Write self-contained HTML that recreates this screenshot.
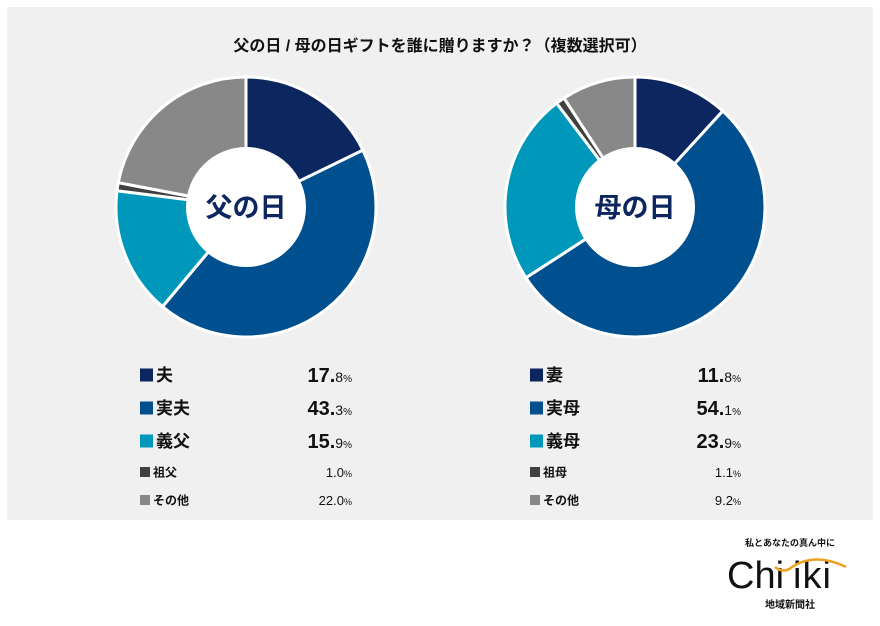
<!DOCTYPE html><html><head><meta charset="utf-8"><style>
body{margin:0;width:880px;height:626px;background:#fff;font-family:"Liberation Sans","Noto Sans CJK JP",sans-serif;position:relative;overflow:hidden}
.panel{position:absolute;left:7px;top:7px;width:866px;height:513px;background:#f0f0f0}
</style></head><body>
<div class="panel"></div>
<svg id="s" width="880" height="626" style="position:absolute;left:0;top:0" font-family="Liberation Sans,Noto Sans CJK JP,sans-serif">
<text x="440" y="51" text-anchor="middle" font-size="16" font-weight="bold" fill="#111">父の日 / 母の日ギフトを誰に贈りますか？（複数選択可）</text>
</svg>
<script>
const C=["#0c2660","#00508f","#0098ba","#404040","#888888"];
const s=document.getElementById('s');
function pie(cx,cy,r,vals,label){
 let a=0,tot=vals.reduce((x,y)=>x+y,0);
 vals.forEach((v,i)=>{const a0=a/tot*2*Math.PI;a+=v;const a1=a/tot*2*Math.PI;
  const x0=cx+r*Math.sin(a0),y0=cy-r*Math.cos(a0),x1=cx+r*Math.sin(a1),y1=cy-r*Math.cos(a1);
  const p=document.createElementNS('http://www.w3.org/2000/svg','path');
  p.setAttribute('d',`M${cx},${cy}L${x0},${y0}A${r},${r} 0 ${a1-a0>Math.PI?1:0} 1 ${x1},${y1}Z`);
  p.setAttribute('fill',C[i]);p.setAttribute('stroke','#fff');p.setAttribute('stroke-width','3');s.appendChild(p);});
 s.insertAdjacentHTML('beforeend',`<circle cx="${cx}" cy="${cy}" r="60" fill="#fff"/><text x="${cx}" y="${cy+10}" text-anchor="middle" font-size="27" font-weight="bold" fill="#0c2660">${label}</text>`);
}
pie(246,207,130,[17.8,43.3,15.9,1.0,22.0],"父の日");
pie(635,207,130,[11.8,54.1,23.9,1.1,9.2],"母の日");
function leg(x,rx,names,vals){
 const ys=[375,408,441,472,500];
 names.forEach((n,i)=>{const big=i<3,y=ys[i],sz=big?13:10,fs=big?17:12;
  s.insertAdjacentHTML('beforeend',`<rect x="${x}" y="${y-sz/2}" width="${sz}" height="${sz}" fill="${C[i]}"/>
  <text x="${x+sz+3}" y="${y+fs*0.36}" font-size="${fs}" font-weight="bold" fill="#111">${n}</text>`);
  const [a,b]=vals[i].split('.');
  s.insertAdjacentHTML('beforeend',big?`<text x="${rx}" y="${y+7}" text-anchor="end" font-size="20" font-weight="bold" fill="#111">${a}.<tspan font-size="14" font-weight="normal">${b}</tspan><tspan font-size="10" font-weight="normal">%</tspan></text>`:`<text x="${rx}" y="${y+5}" text-anchor="end" font-size="13" fill="#111">${a}.${b}<tspan font-size="9">%</tspan></text>`);
 });
}
leg(140,352,["夫","実夫","義父","祖父","その他"],["17.8","43.3","15.9","1.0","22.0"]);
leg(530,741,["妻","実母","義母","祖母","その他"],["11.8","54.1","23.9","1.1","9.2"]);
s.insertAdjacentHTML('beforeend',`<text x="790" y="546" text-anchor="middle" font-size="9" font-weight="bold" fill="#111">私とあなたの真ん中に</text>
<text x="727" y="588" font-size="38" fill="#111" font-family="Liberation Sans,sans-serif">Chi</text>
<text x="793" y="588" font-size="38" fill="#111" font-family="Liberation Sans,sans-serif" letter-spacing="1">iki</text>
<path d="M775,567 Q784,574 792,567 Q815,552 846,567" stroke="#f0a020" stroke-width="2.5" fill="none"/>
<text x="790" y="608" text-anchor="middle" font-size="10" font-weight="bold" fill="#111">地域新聞社</text>`);
</script>
</body></html>
